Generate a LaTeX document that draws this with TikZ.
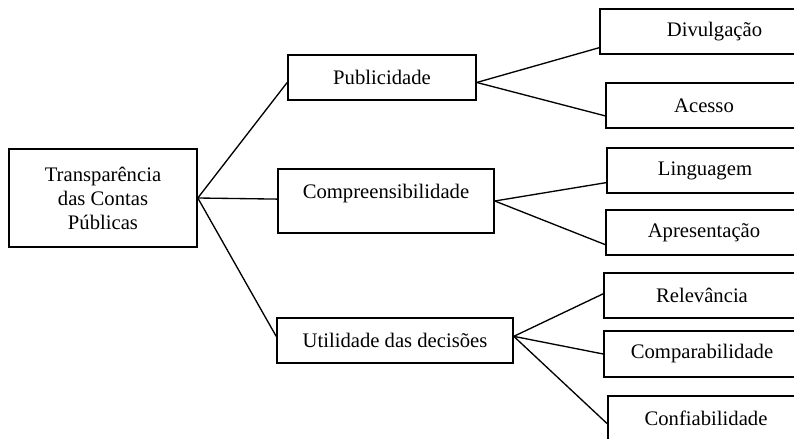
\documentclass[tikz,border=0pt]{standalone}
\usepackage{fontspec}
\setmainfont{Liberation Serif}
\begin{document}
\begin{tikzpicture}[x=0.75pt, y=-0.75pt, font=\fontsize{15.5}{18}\selectfont]
  \useasboundingbox (0, 0) rectangle (794, 439);  % Rand wie Vorlage.
  \tikzstyle{box}=[rectangle, draw, line width=1.2pt, inner sep=0pt, minimum height=33.75pt, align=center]
  \tikzstyle{leaf}=[box, minimum width=147pt]
  \tikzstyle{link}=[line width=1pt]

  \node[box, minimum width=141pt, minimum height=73.5pt] (root) at (103, 198) {Transparência\\das Contas\\Públicas};

  \node[box, minimum width=141pt] (pub)  at (382, 77.5)  {Publicidade};
  \node[box, minimum width=162pt, minimum height=48pt, text depth=15pt] (comp) at (386, 201) {Compreensibilidade};
  \node[box, minimum width=177pt] (util) at (395, 340.5) {Utilidade das decisões};

  \node[leaf, minimum width=171.75pt] (div) at (714.5, 31.5) {Divulgação};
  \node[leaf] (ace) at (704, 105.5) {Acesso};
  \node[leaf] (lin) at (705, 170.5) {Linguagem};
  \node[leaf] (apr) at (704, 232.5) {Apresentação};
  \node[leaf] (rel) at (702, 295.5) {Relevância};
  \node[leaf, minimum height=34.5pt] (cmp) at (702, 354) {Comparabilidade};
  \node[leaf] (cnf) at (706, 418.5) {Confiabilidade};

  \path[link] (root.east) edge (pub.183);
  \path[link] (root.east) edge (comp.179);
  \path[link] (root.east) edge (util.178);
  \path[link] (pub.357) edge (div.188);
  \path[link] (pub.357) edge (ace.186);
  \path[link] (comp.east) edge (lin.187);
  \path[link] (comp.east) edge (apr.187);
  \path[link] (util.2) edge (rel.179);
  \path[link] (util.2) edge (cmp.west);
  \path[link] (util.2) edge (cnf.183);
\end{tikzpicture}
\end{document}
